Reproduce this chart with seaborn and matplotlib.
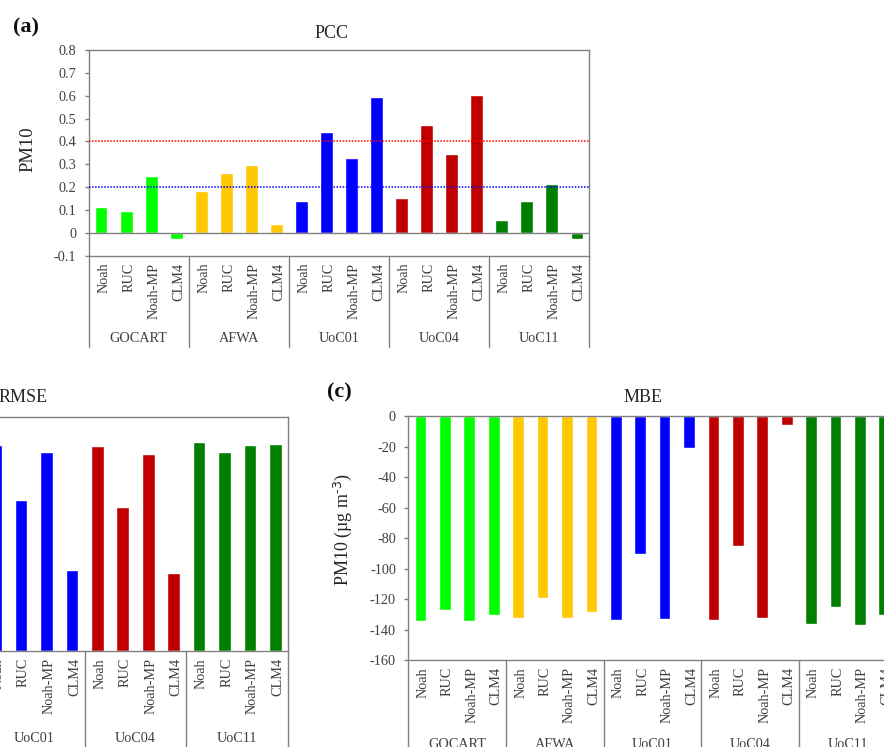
import numpy as np
import pandas as pd
import matplotlib
matplotlib.use("Agg")
import matplotlib.pyplot as plt
from matplotlib.transforms import ScaledTranslation
import seaborn as sns

sns.set_theme(style="white")
plt.rcParams['font.family'] = ['Liberation Serif', 'DejaVu Serif']
plt.rcParams['mathtext.default'] = 'regular'
plt.rcParams['axes.unicode_minus'] = False

W, H = 884, 747
GREY = '#808080'
TXT = '#404040'
#------------------------------------
# Data
groups = ['GOCART', 'AFWA', 'UoC01', 'UoC04', 'UoC11']
models = ['Noah', 'RUC', 'Noah-MP', 'CLM4']
colors = ['#00FF00', '#FFC800', '#0000FF', '#C00000', '#007F00']

pcc = [0.111, 0.096, 0.248, -0.029,
       0.184, 0.264, 0.299, 0.039,
       0.139, 0.442, 0.328, 0.596,
       0.153, 0.470, 0.347, 0.604,
       0.058, 0.139, 0.215, -0.026]
# GOCART and AFWA lie outside the cropped picture, y axis of this panel is not visible
rmse = [np.nan, np.nan, np.nan, np.nan,
        np.nan, np.nan, np.nan, np.nan,
        176, 129.5, 170.6, 69,
        175.5, 123, 169, 66.5,
        179, 170, 176, 177.5]
mbe = [-134.6, -127.4, -134.4, -130.4,
       -132.6, -119.0, -132.6, -128.4,
       -133.7, -90.2, -133.3, -21.0,
       -133.7, -84.9, -132.4, -5.9,
       -136.3, -125.2, -136.8, -130.2]

pcc_ticks = [-0.1, 0, 0.1, 0.2, 0.3, 0.4, 0.5, 0.6, 0.7, 0.8]
pcc_ticklabels = ['-0.1', '0', '0.1', '0.2', '0.3', '0.4', '0.5', '0.6', '0.7', '0.8']
mbe_ticks = [-160, -140, -120, -100, -80, -60, -40, -20, 0]

slots = [g + ' ' + m for g in groups for m in models]
group_col = [g for g in groups for m in models]
palette = dict(zip(groups, colors))


def axes_px(fig, left, top, right, bottom):
    return fig.add_axes([left / W, 1 - bottom / H, (right - left) / W, (bottom - top) / H])


def bars(ax, values, width, ylim):
    df = pd.DataFrame({'slot': slots, 'group': group_col, 'value': values}).dropna()
    sns.barplot(data=df, x='slot', y='value', hue='group', order=slots, hue_order=groups,
                palette=palette, dodge=False, width=width, saturation=1, legend=False, ax=ax)
    ax.set_xlim(-0.5, 19.5)
    ax.set_ylim(*ylim)
    ax.set_xlabel('')
    ax.set_ylabel('')
    ax.set_xticks(range(20))
    ax.set_xticklabels(models * 5, rotation=90, fontsize=10.3, color=TXT)
    ax.tick_params(axis='x', length=0, pad=5)
    ax.tick_params(axis='y', left=True, length=2.6, width=1, color=GREY, pad=6.3,
                   labelsize=10.3, labelcolor=TXT)
    # rotated labels sit a bit left of the bar, nudge them back
    shift = ScaledTranslation(2.5 / 100, 0, fig.dpi_scale_trans)
    for lab in ax.get_xticklabels():
        lab.set_transform(lab.get_transform() + shift)
    for s in ax.spines.values():
        s.set_color(GREY)
        s.set_linewidth(1.0)


def group_axis(ax, drop_px, label_px):
    # second level of the category axis: dividers and group names
    h_px = ax.get_position().height * H
    tr = ax.get_xaxis_transform()
    for i in range(6):
        ax.plot([4 * i - 0.5] * 2, [0, -drop_px / h_px], transform=tr, color=GREY, lw=1.0,
                clip_on=False, zorder=5)
    for i, g in enumerate(groups):
        ax.text(4 * i + 1.5, -label_px / h_px, g, transform=tr, ha='center', va='center',
                fontsize=10.3, color=TXT, clip_on=False)


fig = plt.figure(figsize=(W / 100, H / 100), dpi=100, facecolor='white')

# (a) PCC
ax_a = axes_px(fig, 88.7, 50, 589.3, 255.7)
bars(ax_a, pcc, 0.5, (-0.1, 0.8))
ax_a.set_yticks(pcc_ticks)
ax_a.set_yticklabels(pcc_ticklabels)
ax_a.axhline(0, color=GREY, lw=1.0, zorder=4)
ax_a.axhline(0.4, color='#FF0000', lw=1.1, ls=(0, (1, 1)), zorder=4)
ax_a.axhline(0.2, color='#0000FF', lw=1.1, ls=(0, (1, 1)), zorder=4)
group_axis(ax_a, 91, 83)

# (b) RMSE, runs off the left edge of the picture
ax_b = axes_px(fig, -220.5, 417.3, 288, 651)
bars(ax_b, rmse, 0.5, (0, 200))
ax_b.set_yticks([])
group_axis(ax_b, 110, 88)

# (c) MBE, runs off the right edge of the picture
ax_c = axes_px(fig, 408.3, 416.3, 896.5, 660)
bars(ax_c, mbe, 0.48, (-160, 0))
ax_c.set_yticks(mbe_ticks)
ax_c.set_yticklabels([str(t) for t in mbe_ticks])
group_axis(ax_c, 110, 85)

# titles, axis names and panel letters
fig.text(332 / W, 1 - 33 / H, 'PCC', ha='center', va='center', fontsize=13, color='#262626')
fig.text(23 / W, 1 - 398 / H, 'RMSE', ha='center', va='center', fontsize=13, color='#262626')
fig.text(643 / W, 1 - 398 / H, 'MBE', ha='center', va='center', fontsize=13, color='#262626')
fig.text(28 / W, 1 - 149 / H, 'PM10', rotation=90, ha='center', va='center', fontsize=13.3, color='#262626')
fig.text(343 / W, 1 - 530 / H, 'PM10 (µg m$^{\\text{-3}}$)', rotation=90, ha='center', va='center',
         fontsize=13, color='#262626')
fig.text(12.5 / W, 1 - 27 / H, '(a)', ha='left', va='center', fontsize=16, fontweight='bold', color='#111111')
fig.text(327 / W, 1 - 392 / H, '(c)', ha='left', va='center', fontsize=16, fontweight='bold', color='#111111')

fig.savefig('out.png', dpi=100)
